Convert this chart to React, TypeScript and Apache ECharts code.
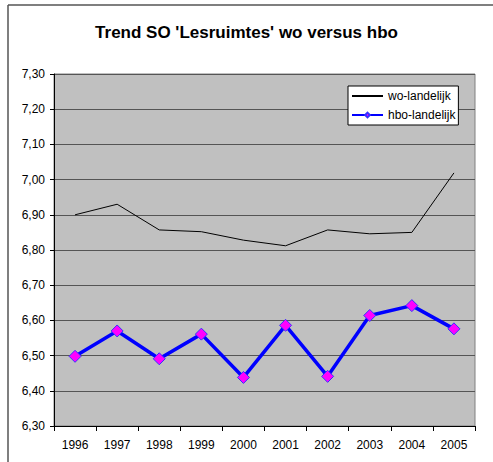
import React, { useEffect, useRef } from "react";
import * as echarts from "echarts";

const years = ["1996", "1997", "1998", "1999", "2000", "2001", "2002", "2003", "2004", "2005"];
const woLandelijk = [6.90, 6.93, 6.857, 6.852, 6.828, 6.812, 6.857, 6.846, 6.850, 7.019];
const hboLandelijk = [6.498, 6.570, 6.491, 6.561, 6.438, 6.586, 6.441, 6.614, 6.642, 6.576];
const titleText = "Trend SO 'Lesruimtes' wo versus hbo";

export default function App() {
  const ref = useRef<HTMLDivElement>(null);
  useEffect(() => {
    if (!ref.current) return;
    const chart = echarts.init(ref.current, null, { renderer: "svg" });
    const font = "'Liberation Sans', Arial, sans-serif";
    chart.setOption({
      animation: false,
      backgroundColor: "#ffffff",
      title: {
        text: titleText,
        left: "center",
        top: 19,
        textStyle: { fontFamily: font, fontSize: 17, fontWeight: "bold", color: "#000" },
      },
      grid: {
        left: 54,
        right: 18,
        top: 74,
        bottom: 36,
        show: true,
        backgroundColor: "#c0c0c0",
        borderColor: "#808080",
        borderWidth: 1,
      },
      legend: {
        orient: "vertical",
        left: 348,
        top: 86,
        itemWidth: 31,
        itemHeight: 6,
        itemGap: 7,
        padding: [4, 3, 4, 3],
        backgroundColor: "#ffffff",
        borderColor: "#000000",
        borderWidth: 1,
        borderRadius: 0,
        textStyle: { fontFamily: font, fontSize: 12, color: "#000" },
        data: [
          { name: "wo-landelijk", itemStyle: { opacity: 0 } },
          { name: "hbo-landelijk" },
        ],
      },
      xAxis: {
        type: "category",
        data: years,
        boundaryGap: true,
        axisLine: { lineStyle: { color: "#000", width: 1 } },
        axisTick: { show: true, length: 5, alignWithLabel: false, lineStyle: { color: "#000" } },
        axisLabel: { fontFamily: font, fontSize: 12, color: "#000", margin: 13 },
        splitLine: { show: false },
      },
      yAxis: {
        type: "value",
        min: 6.3,
        max: 7.3,
        interval: 0.1,
        axisLine: { show: true, lineStyle: { color: "#000", width: 1 } },
        axisTick: { show: true, length: 4, lineStyle: { color: "#000" } },
        axisLabel: {
          fontFamily: font,
          fontSize: 12,
          color: "#000",
          margin: 9,
          formatter: (v: number) => v.toFixed(2).replace(".", ","),
        },
        splitLine: { show: true, lineStyle: { color: "#555555", width: 1 } },
      },
      series: [
        {
          name: "wo-landelijk",
          type: "line",
          data: woLandelijk,
          symbol: "none",
          lineStyle: { color: "#000000", width: 1 },
          itemStyle: { color: "#000000" },
        },
        {
          name: "hbo-landelijk",
          type: "line",
          data: hboLandelijk,
          symbol: "diamond",
          symbolSize: 12,
          lineStyle: { color: "#0000ff", width: 3.5 },
          itemStyle: { color: "#ff00ff", borderColor: "#3333ff", borderWidth: 1 },
        },
      ],
      graphic: [
        { type: "line", shape: { x1: 8, y1: 5, x2: 493, y2: 5 }, style: { stroke: "#555555", lineWidth: 1.5 } },
        { type: "line", shape: { x1: 8, y1: 5, x2: 8, y2: 462 }, style: { stroke: "#555555", lineWidth: 1.5 } },
      ],
    });
    return () => chart.dispose();
  }, []);
  return (
    <div
      ref={ref}
      style={{ position: "fixed", left: 0, top: 0, width: 493, height: 462 }}
    />
  );
}
